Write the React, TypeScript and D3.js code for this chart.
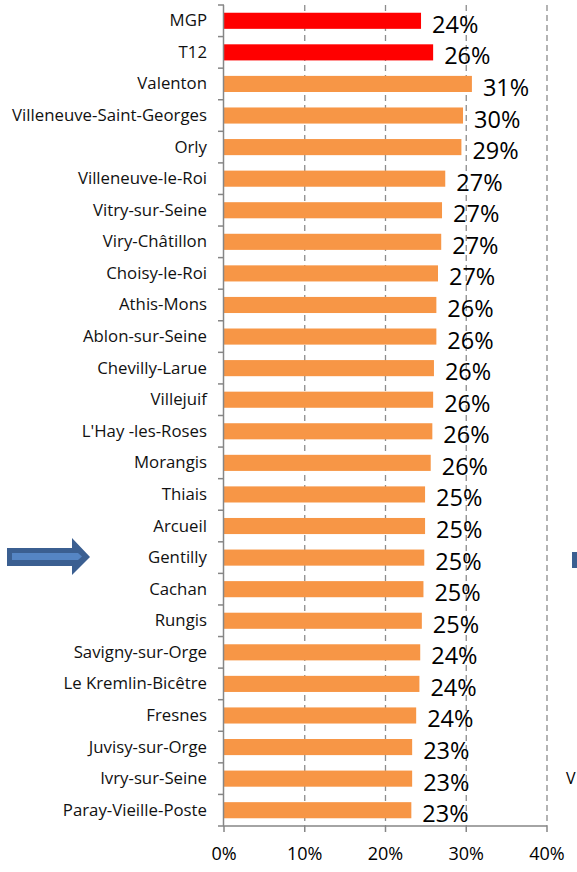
import React from "react";
import * as d3 from "d3";

const communes = [
  "MGP", "T12", "Valenton", "Villeneuve-Saint-Georges", "Orly", "Villeneuve-le-Roi",
  "Vitry-sur-Seine", "Viry-Châtillon", "Choisy-le-Roi", "Athis-Mons", "Ablon-sur-Seine",
  "Chevilly-Larue", "Villejuif", "L'Hay -les-Roses", "Morangis", "Thiais", "Arcueil",
  "Gentilly", "Cachan", "Rungis", "Savigny-sur-Orge", "Le Kremlin-Bicêtre", "Fresnes",
  "Juvisy-sur-Orge", "Ivry-sur-Seine", "Paray-Vieille-Poste",
];
const shares = [
  24.4, 25.9, 30.7, 29.6, 29.4, 27.4, 27.0, 26.9, 26.5, 26.3, 26.3, 26.0, 25.9, 25.8,
  25.6, 24.9, 24.9, 24.8, 24.7, 24.5, 24.3, 24.2, 23.8, 23.3, 23.3, 23.2,
];
const highlighted = ["MGP", "T12"];
const xTicks = [0, 10, 20, 30, 40];

const W = 577, H = 872;
const left = 224, right = 547, top = 5, bottom = 826;
const font = "'Open Sans', Lato, sans-serif";

export default function App() {
  const x = d3.scaleLinear().domain([0, 40]).range([left, right]);
  const y = d3.scaleBand<string>().domain(communes).range([top, bottom]).paddingInner(0.49).paddingOuter(0.245);
  const step = y.step();

  return (
    <svg width={W} height={H} style={{ position: "absolute", left: 0, top: 0, background: "#fff" }}>
      {/* grid */}
      {xTicks.slice(1).map((t) => (
        <line key={t} x1={x(t)} x2={x(t)} y1={top} y2={bottom} stroke="#8c8c8c" strokeWidth={1.3} strokeDasharray="6,4" />
      ))}
      {/* bars */}
      {communes.map((c, i) => (
        <rect key={c} x={x(0)} y={y(c)} width={x(shares[i]) - x(0)} height={y.bandwidth()}
          fill={highlighted.includes(c) ? "#ff0000" : "#f79646"} />
      ))}
      {/* value labels */}
      {communes.map((c, i) => (
        <text key={c} x={x(shares[i]) + 11} y={(y(c) ?? 0) + y.bandwidth() / 2 + 12}
          fontFamily={font} fontSize={23.5} fill="#000">
          {Math.round(shares[i])}%
        </text>
      ))}
      {/* left axis */}
      <line x1={left - 0.5} x2={left - 0.5} y1={top} y2={bottom} stroke="#868686" strokeWidth={1.5} />
      {d3.range(communes.length + 1).map((k) => (
        <line key={k} x1={left - 6} x2={left} y1={top + k * step} y2={top + k * step} stroke="#868686" strokeWidth={1.5} />
      ))}
      {communes.map((c) => (
        <text key={c} x={207} y={(y(c) ?? 0) + y.bandwidth() / 2 + 5.5} textAnchor="end"
          fontFamily={font} fontSize={16.8} fill="#111">
          {c}
        </text>
      ))}
      {/* bottom axis */}
      <line x1={left - 1} x2={right} y1={bottom} y2={bottom} stroke="#868686" strokeWidth={1.5} />
      {xTicks.map((t) => (
        <g key={t}>
          <line x1={x(t)} x2={x(t)} y1={bottom} y2={bottom + 6} stroke="#868686" strokeWidth={1.5} />
          <text x={x(t)} y={bottom + 34} textAnchor="middle" fontFamily={font} fontSize={18} fill="#000">
            {t}%
          </text>
        </g>
      ))}
      {/* arrow */}
      <path d="M7,548 L72,548 L72,538 L90,557 L72,575 L72,566 L7,566 Z" fill="#3b5f91" />
      <path d="M12,553 L78,553 L82,556.5 L78,560 L12,560 Z" fill="#5585c4" />
      <rect x={572} y={552} width={6} height={16} fill="#3b5f91" />
      <text x={566} y={784} fontFamily={font} fontSize={16} fill="#000">V</text>
    </svg>
  );
}
